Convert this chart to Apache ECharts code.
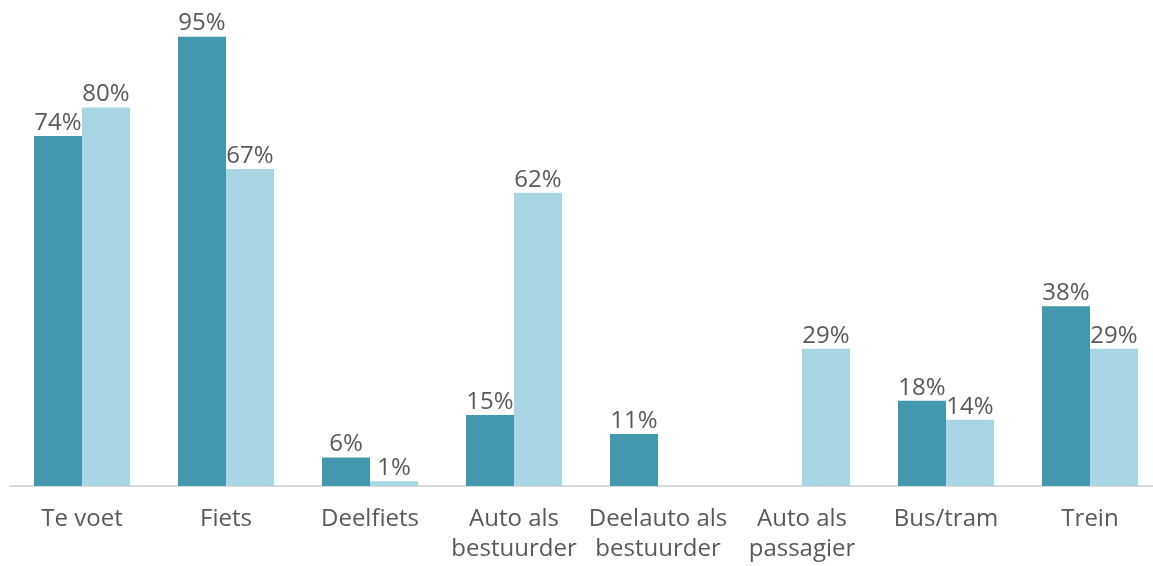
<!DOCTYPE html>
<html>
<head>
<meta charset="utf-8">
<script src="https://cdn.jsdelivr.net/npm/echarts@6/dist/echarts.min.js"></script>
<style>
  html, body { margin: 0; padding: 0; background: #fff; overflow: hidden; }
  /* plot runs a little past the right edge, as in the cropped original */
  #main { width: 1162px; height: 566px; }
</style>
</head>
<body>
<div id="main"></div>
<script>
var categories = ['Te voet', 'Fiets', 'Deelfiets', 'Auto als\nbestuurder', 'Deelauto als\nbestuurder', 'Auto als\npassagier', 'Bus/tram', 'Trein'];
var seriesDark = [74, 95, 6, 15, 11, null, 18, 38];
var seriesLight = [80, 67, 1, 62, null, 29, 14, 29];

var chart = echarts.init(document.getElementById('main'));

function valueLabel() {
    return {
        show: true,
        position: 'top',
        distance: 1,
        formatter: '{c}%',
        color: '#595959',
        fontSize: 24,
        fontFamily: 'Open Sans'
    };
}

var option = {
    animation: false,
    grid: {
        left: 10,
        right: 0,
        top: 13,
        bottom: 80
    },
    xAxis: {
        type: 'category',
        data: categories,
        axisLine: { lineStyle: { color: '#d9d9d9', width: 2 } },
        axisTick: { show: false },
        axisLabel: {
            margin: 18,
            color: '#595959',
            fontSize: 24,
            lineHeight: 30,
            fontFamily: 'Open Sans',
            interval: 0
        }
    },
    yAxis: {
        type: 'value',
        min: 0,
        max: 100,
        show: false,
        splitLine: { show: false }
    },
    series: [
        {
            type: 'bar',
            data: seriesDark,
            barWidth: 48,
            barGap: '0%',
            itemStyle: { color: '#4398b0' },
            label: valueLabel()
        },
        {
            type: 'bar',
            data: seriesLight,
            barWidth: 48,
            itemStyle: { color: '#a8d7e3' },
            label: valueLabel()
        }
    ]
};

chart.setOption(option);
</script>
</body>
</html>
